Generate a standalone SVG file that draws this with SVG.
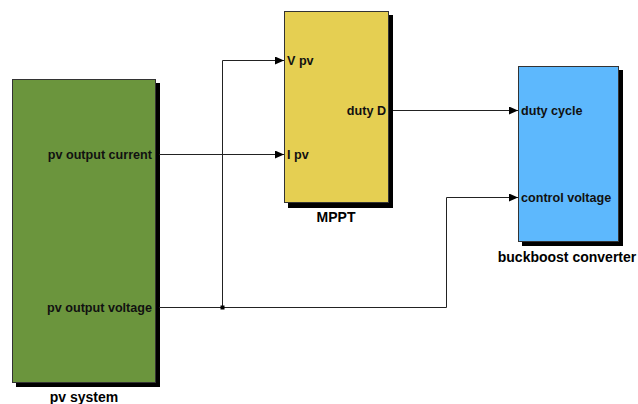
<svg xmlns="http://www.w3.org/2000/svg" width="638" height="404" viewBox="0 0 638 404">
  <style>
    .shadow { fill: #000; }
    .box { stroke: #333; stroke-width: 1; }
    .port { font-family: "Liberation Sans", Arial, sans-serif; font-size: 12.6px; font-weight: bold; fill: #111; }
    .title { font-family: "Liberation Sans", Arial, sans-serif; font-size: 14px; font-weight: bold; fill: #000; text-anchor: middle; }
    .wire { fill: none; stroke: #222; stroke-width: 1; }
  </style>
  <defs>
    <marker id="arrow" markerWidth="9" markerHeight="8" refX="9" refY="4" orient="auto" markerUnits="userSpaceOnUse">
      <path d="M0,0 L9,4 L0,8 Z" fill="#000"/>
    </marker>
  </defs>
  <rect width="638" height="404" fill="#fff"/>

  <g id="pv-system">
    <rect class="shadow" x="16" y="83" width="144" height="304"/>
    <rect class="box" x="12.5" y="79.5" width="143" height="303" fill="#6B953D"/>
    <text class="port" x="152" y="159" text-anchor="end">pv output current</text>
    <text class="port" x="152" y="312" text-anchor="end">pv output voltage</text>
    <text class="title" x="84" y="402">pv system</text>
  </g>

  <g id="mppt">
    <rect class="shadow" x="288" y="15" width="105" height="193"/>
    <rect class="box" x="284.5" y="11.5" width="104" height="191" fill="#E5CF52"/>
    <text class="port" x="287" y="65">V pv</text>
    <text class="port" x="287" y="159">I pv</text>
    <text class="port" x="386" y="115" text-anchor="end">duty D</text>
    <text class="title" x="336" y="222">MPPT</text>
  </g>

  <g id="buckboost-converter">
    <rect class="shadow" x="522" y="70" width="101" height="176"/>
    <rect class="box" x="518.5" y="66.5" width="100" height="175" fill="#5DB8FD"/>
    <text class="port" x="521" y="115">duty cycle</text>
    <text class="port" x="521" y="202">control voltage</text>
    <text class="title" x="567" y="262">buckboost converter</text>
  </g>

  <g id="connectors">
    <path class="wire" d="M159,154.5 H284" marker-end="url(#arrow)"/>
    <path class="wire" d="M159,307.5 H446.5 V197.5 H518" marker-end="url(#arrow)"/>
    <path class="wire" d="M222.5,307.5 V60.5 H284" marker-end="url(#arrow)"/>
    <path class="wire" d="M393,110.5 H518" marker-end="url(#arrow)"/>
    <rect x="220.5" y="305.5" width="4" height="4" fill="#000"/>
  </g>
</svg>
